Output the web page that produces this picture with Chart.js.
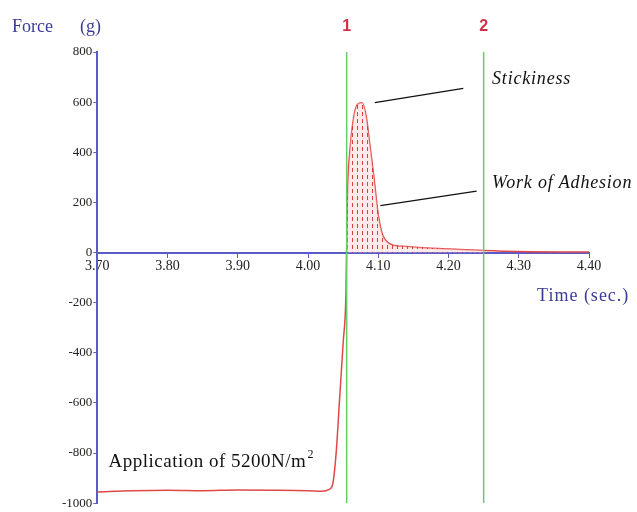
<!DOCTYPE html>
<html>
<head>
<meta charset="utf-8">
<script src="https://cdn.jsdelivr.net/npm/chart.js@4"></script>
<style>
  html, body { margin: 0; padding: 0; background: #fff; }
  #wrap { width: 637px; height: 512px; }
</style>
</head>
<body>
<div id="wrap"><canvas id="forceChart"></canvas></div>
<script>
// data
const time  = [3.70, 3.75, 3.80, 3.85, 3.90, 3.95, 4.00, 4.02, 4.03, 4.035, 4.04, 4.045, 4.05, 4.054,
               4.056, 4.06, 4.065, 4.07, 4.077, 4.083, 4.088, 4.093, 4.10, 4.105, 4.11, 4.12, 4.14, 4.17, 4.20, 4.25, 4.30, 4.40];
const force = [-955, -950, -948, -950, -947, -948, -950, -952, -945, -925, -800, -580, -360, -160,
               210, 420, 540, 590, 598, 540, 430, 320, 150, 80, 50, 30, 24, 18, 14, 8, 4, 2];
const markers = [4.055, 4.25];
const markerLabels = ['1', '2'];
const xTicks = [3.70, 3.80, 3.90, 4.00, 4.10, 4.20, 4.30, 4.40];
const yTicks = [-1000, -800, -600, -400, -200, 0, 200, 400, 600, 800];

const axisBlue = '#5a5ac8';
const curveRed = '#e04848';
const lineGreen = '#66cc66';

document.addEventListener("DOMContentLoaded", function() {
    const ctx = document.getElementById('forceChart').getContext('2d');

    // dotted red hatch for the work-of-adhesion area
    const pc = document.createElement('canvas');
    pc.width = 5; pc.height = 7;
    const p = pc.getContext('2d');
    p.fillStyle = 'rgba(255,215,215,0.55)';
    p.fillRect(0, 0, 5, 7);
    p.fillStyle = 'rgba(200,40,40,0.85)';
    p.fillRect(2, 0, 1, 4);
    const hatch = ctx.createPattern(pc, 'repeat');

    const curve = time.map((t, i) => ({ x: t, y: force[i] }));
    const area = curve.filter(pt => pt.x >= markers[0] && pt.x <= markers[1]);

    const markerSets = markers.map(m => ({
        data: [{ x: m, y: yTicks[yTicks.length - 1] }, { x: m, y: yTicks[0] }],
        borderColor: lineGreen, borderWidth: 1.5, pointRadius: 0, fill: false
    }));

    const annotations = {
        id: 'annotations',
        afterDraw(chart) {
            const c = chart.ctx, xs = chart.scales.x, ys = chart.scales.y, a = chart.chartArea;
            const X = v => xs.getPixelForValue(v), Y = v => ys.getPixelForValue(v);
            c.save();
            // axis titles
            c.fillStyle = '#3c3c96';
            c.font = '18px "Liberation Serif"';
            c.textBaseline = 'middle';
            c.textAlign = 'left';
            c.fillText('Force', 12, 27);
            c.fillText('(g)', 80, 27);
            c.letterSpacing = '1px';
            c.fillText('Time (sec.)', X(4.326), Y(-175));
            // marker numbers
            c.letterSpacing = '0px';
            c.fillStyle = '#d0304a';
            c.font = 'bold 16px "Liberation Sans"';
            c.textAlign = 'center';
            markers.forEach((m, i) => c.fillText(markerLabels[i], X(m), a.top - 25));
            // callouts
            c.fillStyle = '#111';
            c.font = 'italic 18px "Liberation Serif"';
            c.letterSpacing = '0.8px';
            c.textAlign = 'left';
            c.fillText('Stickiness', X(4.262), Y(693));
            c.fillText('Work of Adhesion', X(4.262), Y(275));
            c.letterSpacing = '0px';
            c.strokeStyle = '#111';
            c.lineWidth = 1.2;
            c.beginPath();
            c.moveTo(X(4.095), Y(598)); c.lineTo(X(4.221), Y(655));
            c.moveTo(X(4.103), Y(187)); c.lineTo(X(4.240), Y(245));
            c.stroke();
            // pressure note
            c.font = '19px "Liberation Serif"';
            c.letterSpacing = '0.5px';
            const tx = X(3.716), ty = Y(-837);
            c.fillText('Application of 5200N/m', tx, ty);
            const w = c.measureText('Application of 5200N/m').width;
            c.font = '12px "Liberation Serif"';
            c.fillText('2', tx + w + 1, ty - 7);
            c.restore();
        }
    };

    new Chart(ctx, {
        type: 'line',
        data: {
            datasets: [
                {
                    data: area,
                    borderWidth: 0,
                    borderColor: 'rgba(0,0,0,0)',
                    backgroundColor: hatch,
                    fill: 'origin',
                    pointRadius: 0,
                    cubicInterpolationMode: 'monotone'
                },
                ...markerSets,
                {
                    data: curve,
                    borderColor: curveRed,
                    borderWidth: 1.5,
                    pointRadius: 0,
                    fill: false,
                    cubicInterpolationMode: 'monotone'
                }
            ]
        },
        options: {
            responsive: true,
            maintainAspectRatio: false,
            animation: false,
            layout: { padding: { top: 52, right: 48, bottom: 3, left: 61 } },
            plugins: {
                legend: { display: false },
                tooltip: { enabled: false }
            },
            scales: {
                x: {
                    type: 'linear',
                    position: { y: 0 },
                    min: xTicks[0],
                    max: xTicks[xTicks.length - 1],
                    afterBuildTicks: s => { s.ticks = xTicks.map(v => ({ value: v })); },
                    ticks: {
                        callback: v => v.toFixed(2),
                        color: '#222',
                        font: { family: 'Liberation Serif', size: 14 },
                        maxRotation: 0,
                        padding: 1
                    },
                    grid: { drawOnChartArea: false, drawTicks: true, tickLength: 4, color: axisBlue },
                    border: { color: axisBlue, width: 2 }
                },
                y: {
                    type: 'linear',
                    min: yTicks[0],
                    max: yTicks[yTicks.length - 1],
                    afterBuildTicks: s => { s.ticks = yTicks.map(v => ({ value: v })); },
                    ticks: {
                        callback: v => String(v),
                        color: '#222',
                        font: { family: 'Liberation Serif', size: 13 },
                        padding: 1
                    },
                    grid: { drawOnChartArea: false, drawTicks: true, tickLength: 4, color: axisBlue },
                    border: { color: axisBlue, width: 2 }
                }
            }
        },
        plugins: [annotations]
    });
});
</script>
</body>
</html>
